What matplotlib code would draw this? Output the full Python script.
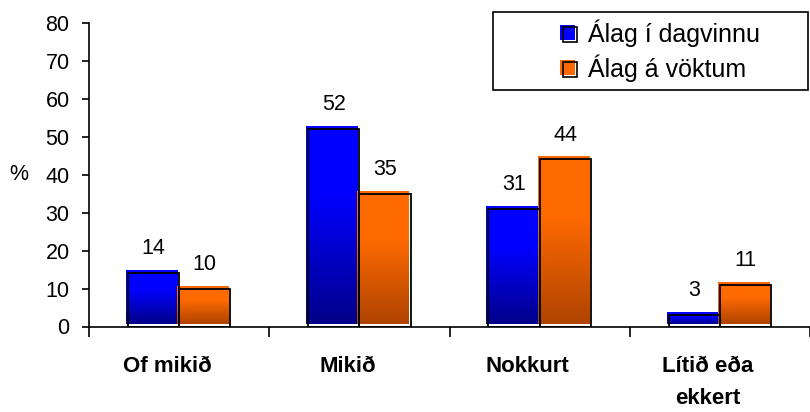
import numpy as np
import matplotlib
matplotlib.use("Agg")
import matplotlib.pyplot as plt
import matplotlib.transforms as mtransforms
from matplotlib.colors import LinearSegmentedColormap
from matplotlib.patches import Rectangle, Patch

plt.rcParams['font.family'] = ['Liberation Sans', 'DejaVu Sans']

# Svör um álag
flokkar = ["Of mikið", "Mikið", "Nokkurt", "Lítið eða\nekkert"]
dagvinna = [14, 52, 31, 3]
vaktir = [10, 35, 44, 11]
heiti = ["Álag í dagvinnu", "Álag á vöktum"]

litir = {
    "dag": ("#0000ff", "#00008a"),
    "vakt": ("#ff6a00", "#b04400"),
}

fig = plt.figure(figsize=(8.1, 4.12), dpi=100)
ax = fig.add_axes([89 / 810, 85.5 / 412, 1 - 89 / 810, (326.5 - 22.7) / 412])

x = np.arange(len(flokkar))
w = 0.284
skekk = mtransforms.ScaledTranslation(-1.5 / 72, 1.5 / 72, fig.dpi_scale_trans)


def teikna_stolpa(xs, gildi, efri, nedri):
    cmap = LinearSegmentedColormap.from_list("g", [(0, nedri), (0.65, efri), (1, efri)])
    grad = np.linspace(0, 1, 64).reshape(-1, 1)
    for xi, v in zip(xs, gildi):
        ax.imshow(grad, extent=[xi - w / 2, xi + w / 2, 0, v], origin="lower",
                  aspect="auto", cmap=cmap, zorder=2,
                  transform=ax.transData + skekk, interpolation="bilinear")
    ax.bar(xs, gildi, w, facecolor="none", edgecolor="black", lw=1.3, zorder=3)
    for xi, v in zip(xs, gildi):
        ax.annotate(str(v), (xi, v), xytext=(0, 10), textcoords="offset points",
                    ha="center", va="bottom", fontsize=15.5)


teikna_stolpa(x - w / 2, dagvinna, *litir["dag"])
teikna_stolpa(x + w / 2, vaktir, *litir["vakt"])

ax.set_xlim(-0.5, -0.5 + (810 - 89) / 183.3)
ax.set_ylim(0, 80)
ax.set_yticks(range(0, 81, 10))
ax.set_xticks(x)
ax.set_xticklabels(flokkar, fontweight="bold", fontsize=16, linespacing=1.7)
ax.set_xticks(np.arange(-0.5, len(flokkar), 1), minor=True)
ax.tick_params(axis="x", which="major", length=0, pad=21)
ax.tick_params(axis="x", which="minor", length=7, width=1.2, direction="out")
ax.tick_params(axis="y", length=5, width=1.2, direction="out", labelsize=15.5, pad=9)
ax.set_ylabel("%", rotation=0, fontsize=15.5, ha="center", va="center")
ax.yaxis.set_label_coords((19 - 89) / 721, 0.5)
for s in ("top", "right"):
    ax.spines[s].set_visible(False)
for s in ("left", "bottom"):
    ax.spines[s].set_linewidth(1.2)

# flokkaheitin sitja aðeins vinstra megin við miðju
hlidrun = mtransforms.ScaledTranslation(-0.12, 0, fig.dpi_scale_trans)
for lab in ax.get_xticklabels():
    lab.set_transform(lab.get_transform() + hlidrun)


class Reitur:
    # litaður ferningur með skekktum svörtum ramma
    def __init__(self, litur):
        self.litur = litur

    def legend_artist(self, legend, orig_handle, fontsize, handlebox):
        x0, y0 = handlebox.xdescent, handlebox.ydescent
        s = handlebox.height * 0.85
        fill = Rectangle((x0 - 1.5, y0 + 1.5), s, s, facecolor=self.litur,
                         edgecolor="none", transform=handlebox.get_transform())
        ramm = Rectangle((x0, y0), s, s, facecolor="none", edgecolor="black",
                         lw=1.2, transform=handlebox.get_transform())
        handlebox.add_artist(fill)
        handlebox.add_artist(ramm)
        return ramm


# rammi skýringa
fig.patches.append(Rectangle((493 / 810, 1 - 90 / 412), 315 / 810, 78 / 412,
                             transform=fig.transFigure, facecolor="white",
                             edgecolor="black", lw=1.2, zorder=4))

h1 = Patch(label=heiti[0])
h2 = Patch(label=heiti[1])
leg = fig.legend([h1, h2], heiti, handler_map={h1: Reitur("#0000ff"), h2: Reitur("#ff6a00")},
                 loc="center", bbox_to_anchor=(661 / 810, 1 - 51 / 412),
                 bbox_transform=fig.transFigure, fontsize=18,
                 frameon=False, handlelength=0.7,
                 handletextpad=0.3, borderpad=0.3, labelspacing=0.3, borderaxespad=0)
leg.set_zorder(5)

fig.savefig("out.png", dpi=100)
